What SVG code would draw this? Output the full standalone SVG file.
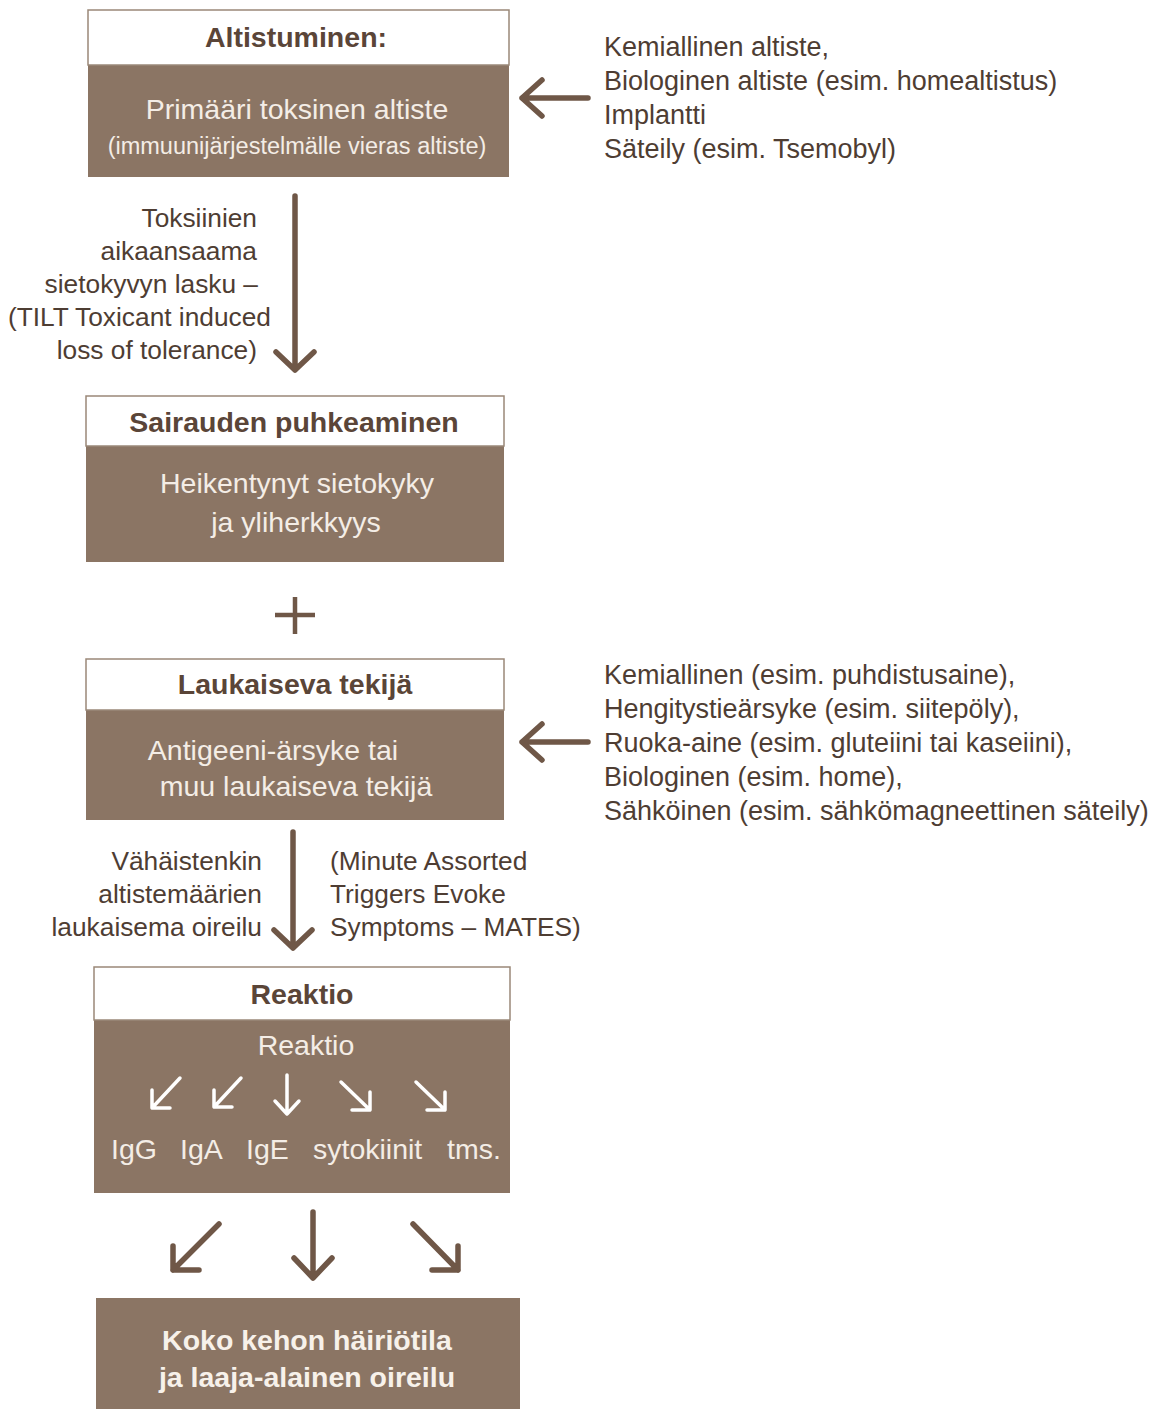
<svg xmlns="http://www.w3.org/2000/svg" width="1160" height="1409" viewBox="0 0 1160 1409">
<style>
.hdr{fill:#ffffff;stroke:#9a8878;stroke-width:1.5}
.body{fill:#8b7564}
.ht{font-family:"Liberation Sans",Arial,sans-serif;font-weight:bold;font-size:28.5px;fill:#5a4538;text-anchor:middle}
.bt{font-family:"Liberation Sans",Arial,sans-serif;font-size:28.5px;fill:#f4ede6;text-anchor:middle}
.st{font-family:"Liberation Sans",Arial,sans-serif;font-size:23.5px;fill:#f4ede6;text-anchor:middle}
.it{font-family:"Liberation Sans",Arial,sans-serif;font-size:28.5px;fill:#f4ede6}
.kt{font-family:"Liberation Sans",Arial,sans-serif;font-weight:bold;font-size:28.5px;fill:#f7f1ea;text-anchor:middle}
.lt{font-family:"Liberation Sans",Arial,sans-serif;font-size:27px;fill:#4e3d33}
.ml{font-size:26.3px}
.conn{fill:none;stroke:#6f5747;stroke-width:5.5;stroke-linecap:round;stroke-linejoin:round}
.wa{fill:none;stroke:#ffffff;stroke-width:3.5;stroke-linecap:round;stroke-linejoin:round}
</style>

<g id="node-altistuminen">
<rect class="body" x="88" y="65" width="421" height="112"/>
<rect class="hdr" x="88" y="10" width="421" height="55"/>
<text class="ht" x="296" y="47">Altistuminen:</text>
<text class="bt" x="297" y="119">Primääri toksinen altiste</text>
<text class="st" x="297" y="154">(immuunijärjestelmälle vieras altiste)</text>
</g>

<g id="note-altisteet">
<text class="lt" x="604" y="56">Kemiallinen altiste,</text>
<text class="lt" x="604" y="90">Biologinen altiste (esim. homealtistus)</text>
<text class="lt" x="604" y="124">Implantti</text>
<text class="lt" x="604" y="158">Säteily (esim. Tsemobyl)</text>
</g>

<g id="label-tilt">
<text class="lt ml" x="257" y="227" text-anchor="end">Toksiinien</text>
<text class="lt ml" x="257" y="260" text-anchor="end">aikaansaama</text>
<text class="lt ml" x="258" y="293" text-anchor="end">sietokyvyn lasku –</text>
<text class="lt ml" x="271" y="326" text-anchor="end">(TILT Toxicant induced</text>
<text class="lt ml" x="257" y="359" text-anchor="end">loss of tolerance)</text>
</g>

<g id="node-sairaus">
<rect class="body" x="86" y="446" width="418" height="116"/>
<rect class="hdr" x="86" y="396" width="418" height="50"/>
<text class="ht" x="294" y="432">Sairauden puhkeaminen</text>
<text class="bt" x="297" y="493">Heikentynyt sietokyky</text>
<text class="bt" x="296" y="532">ja yliherkkyys</text>
</g>

<g id="plus">
<path d="M275 615 H315 M295 597 V634" fill="none" stroke="#6f5747" stroke-width="4.5"/>
</g>

<g id="node-laukaiseva">
<rect class="body" x="86" y="710" width="418" height="110"/>
<rect class="hdr" x="86" y="659" width="418" height="51"/>
<text class="ht" x="295" y="694">Laukaiseva tekijä</text>
<text class="bt" x="273" y="760">Antigeeni-ärsyke tai</text>
<text class="bt" x="296" y="796">muu laukaiseva tekijä</text>
</g>

<g id="note-laukaisijat">
<text class="lt" x="604" y="684">Kemiallinen (esim. puhdistusaine),</text>
<text class="lt" x="604" y="718">Hengitystieärsyke (esim. siitepöly),</text>
<text class="lt" x="604" y="752">Ruoka-aine (esim. gluteiini tai kaseiini),</text>
<text class="lt" x="604" y="786">Biologinen (esim. home),</text>
<text class="lt" x="604" y="820">Sähköinen (esim. sähkömagneettinen säteily)</text>
</g>

<g id="label-mates">
<text class="lt ml" x="262" y="870" text-anchor="end">Vähäistenkin</text>
<text class="lt ml" x="262" y="903" text-anchor="end">altistemäärien</text>
<text class="lt ml" x="262" y="936" text-anchor="end">laukaisema oireilu</text>
<text class="lt ml" x="330" y="870">(Minute Assorted</text>
<text class="lt ml" x="330" y="903">Triggers Evoke</text>
<text class="lt ml" x="330" y="936">Symptoms – MATES)</text>
</g>

<g id="node-reaktio">
<rect class="body" x="94" y="1020" width="416" height="173"/>
<rect class="hdr" x="94" y="967" width="416" height="53"/>
<text class="ht" x="302" y="1004">Reaktio</text>
<text class="bt" x="306" y="1055">Reaktio</text>
<g>
<path class="wa" d="M180 1078 L152 1108 M152 1090 V1108 H170"/>
<path class="wa" d="M241 1078 L214 1107 M214 1090 V1107 H232"/>
<path class="wa" d="M287 1075 V1113 M275 1101 L287 1114 L299 1101"/>
<path class="wa" d="M341 1082 L370 1110 M370 1092 V1110 H352"/>
<path class="wa" d="M416 1082 L445 1110 M445 1092 V1110 H427"/>
</g>
<text class="it" x="111" y="1159">IgG</text>
<text class="it" x="180" y="1159">IgA</text>
<text class="it" x="246" y="1159">IgE</text>
<text class="it" x="313" y="1159">sytokiinit</text>
<text class="it" x="447" y="1159">tms.</text>
</g>

<g id="node-koko-keho">
<rect class="body" x="96" y="1298" width="424" height="111"/>
<text class="kt" x="307" y="1350">Koko kehon häiriötila</text>
<text class="kt" x="307" y="1387">ja laaja-alainen oireilu</text>
</g>

<g id="connectors">
<path class="conn" d="M588 98 H522 M542 80 L522 98 L542 116"/>
<path class="conn" d="M295 196 V370 M276 352 L295 370 L314 352"/>
<path class="conn" d="M588 742 H522 M542 724 L522 742 L542 760"/>
<path class="conn" d="M293 832 V948 M274 930 L293 948 L312 930"/>
<path class="conn" d="M219 1224 L173 1270 M173 1246 V1270 H199"/>
<path class="conn" d="M313 1212 V1278 M294 1258 L313 1278 L332 1258"/>
<path class="conn" d="M413 1224 L458 1270 M458 1246 V1270 H432"/>
</g>
</svg>
